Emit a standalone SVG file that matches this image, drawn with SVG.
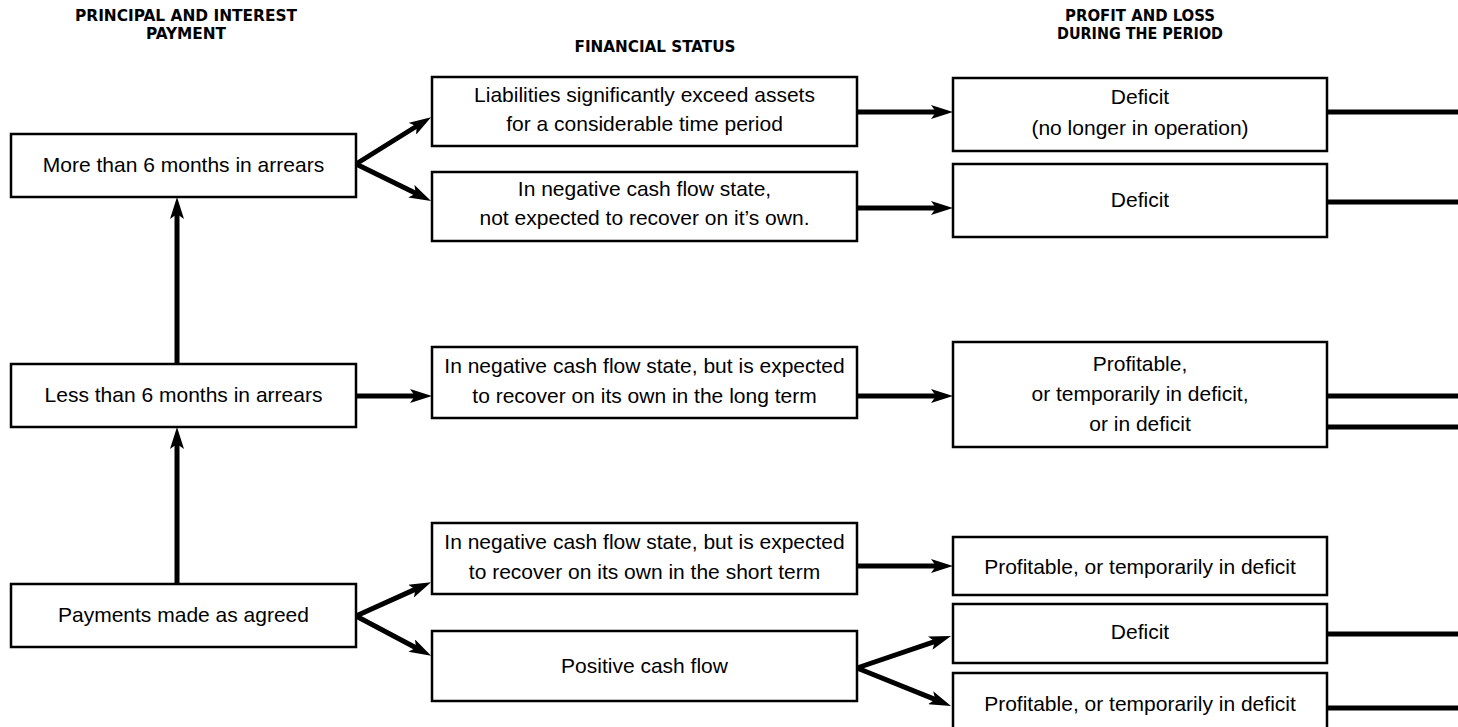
<svg xmlns="http://www.w3.org/2000/svg" width="1458" height="727" viewBox="0 0 1458 727">
<style>
.box{fill:#fff;stroke:#000;stroke-width:2.5}
.t{font-family:'Liberation Sans',Arial,sans-serif;font-size:21px;text-anchor:middle;fill:#000}
.h{font-family:'Liberation Sans Narrow','DejaVu Sans Condensed',sans-serif;font-weight:bold;font-size:15.5px;text-anchor:middle;fill:#000}
.c{stroke:#000;stroke-width:5;fill:none}
.a{marker-end:url(#ah)}
</style>
<defs>
<marker id="ah" markerUnits="userSpaceOnUse" markerWidth="22" markerHeight="14" refX="10" refY="7" orient="auto" viewBox="0 0 22 14"><path d="M0,0 L22,7 L0,14 L5,7 Z" fill="#000"/></marker>
</defs>
<g id="headers">
<text class="h" x="186" y="20.5" textLength="222" lengthAdjust="spacingAndGlyphs">PRINCIPAL AND INTEREST</text>
<text class="h" x="186" y="38.5" textLength="80" lengthAdjust="spacingAndGlyphs">PAYMENT</text>
<text class="h" x="655" y="51.5" textLength="161" lengthAdjust="spacingAndGlyphs">FINANCIAL STATUS</text>
<text class="h" x="1140" y="20.5" textLength="150" lengthAdjust="spacingAndGlyphs">PROFIT AND LOSS</text>
<text class="h" x="1140" y="38.5" textLength="166" lengthAdjust="spacingAndGlyphs">DURING THE PERIOD</text>
</g>
<g id="connectors">
<line class="c a" x1="177" y1="364" x2="177" y2="209"/>
<line class="c a" x1="177" y1="584" x2="177" y2="439"/>
<line class="c a" x1="356" y1="164" x2="420.9" y2="123.5"/>
<line class="c a" x1="356" y1="164" x2="420.3" y2="195.6"/>
<line class="c a" x1="356" y1="396" x2="420" y2="396"/>
<line class="c a" x1="356" y1="616" x2="420.1" y2="587.1"/>
<line class="c a" x1="356" y1="616" x2="420.5" y2="650.2"/>
<line class="c a" x1="857" y1="112" x2="941" y2="112"/>
<line class="c a" x1="857" y1="208" x2="941" y2="208"/>
<line class="c a" x1="857" y1="396" x2="941" y2="396"/>
<line class="c a" x1="857" y1="566" x2="941" y2="566"/>
<line class="c a" x1="857" y1="668" x2="939.7" y2="639.9"/>
<line class="c a" x1="857" y1="668" x2="939.9" y2="701.4"/>
<line class="c" x1="1327" y1="112" x2="1458" y2="112"/>
<line class="c" x1="1327" y1="202" x2="1458" y2="202"/>
<line class="c" x1="1327" y1="396" x2="1458" y2="396"/>
<line class="c" x1="1327" y1="427" x2="1458" y2="427"/>
<line class="c" x1="1327" y1="634" x2="1458" y2="634"/>
<line class="c" x1="1327" y1="708" x2="1458" y2="708"/>
</g>
<g id="pay-more">
<rect class="box" x="11" y="134" width="345" height="63"/>
<text class="t" x="183.5" y="172">More than 6 months in arrears</text>
</g>
<g id="pay-less">
<rect class="box" x="11" y="364" width="345" height="63"/>
<text class="t" x="183.5" y="402">Less than 6 months in arrears</text>
</g>
<g id="pay-agreed">
<rect class="box" x="11" y="584" width="345" height="63"/>
<text class="t" x="183.5" y="622">Payments made as agreed</text>
</g>
<g id="fs-liabilities">
<rect class="box" x="432" y="77" width="425" height="69"/>
<text class="t" x="644.5" y="102">Liabilities significantly exceed assets</text>
<text class="t" x="644.5" y="131">for a considerable time period</text>
</g>
<g id="fs-negative">
<rect class="box" x="432" y="172" width="425" height="69"/>
<text class="t" x="644.5" y="196">In negative cash flow state,</text>
<text class="t" x="644.5" y="225">not expected to recover on it’s own.</text>
</g>
<g id="fs-long">
<rect class="box" x="432" y="347" width="425" height="71"/>
<text class="t" x="644.5" y="373">In negative cash flow state, but is expected</text>
<text class="t" x="644.5" y="403">to recover on its own in the long term</text>
</g>
<g id="fs-short">
<rect class="box" x="432" y="523" width="425" height="71"/>
<text class="t" x="644.5" y="549">In negative cash flow state, but is expected</text>
<text class="t" x="644.5" y="579">to recover on its own in the short term</text>
</g>
<g id="fs-positive">
<rect class="box" x="432" y="631" width="425" height="70"/>
<text class="t" x="644.5" y="673">Positive cash flow</text>
</g>
<g id="pl-deficit-closed">
<rect class="box" x="953" y="78" width="374" height="73"/>
<text class="t" x="1140" y="104">Deficit</text>
<text class="t" x="1140" y="135">(no longer in operation)</text>
</g>
<g id="pl-deficit">
<rect class="box" x="953" y="164" width="374" height="73"/>
<text class="t" x="1140" y="207">Deficit</text>
</g>
<g id="pl-mixed">
<rect class="box" x="953" y="342" width="374" height="105"/>
<text class="t" x="1140" y="371">Profitable,</text>
<text class="t" x="1140" y="401">or temporarily in deficit,</text>
<text class="t" x="1140" y="431">or in deficit</text>
</g>
<g id="pl-profit-short">
<rect class="box" x="953" y="537" width="374" height="58"/>
<text class="t" x="1140" y="574">Profitable, or temporarily in deficit</text>
</g>
<g id="pl-deficit-pos">
<rect class="box" x="953" y="604" width="374" height="59"/>
<text class="t" x="1140" y="639">Deficit</text>
</g>
<g id="pl-profit-pos">
<rect class="box" x="953" y="673" width="374" height="70"/>
<text class="t" x="1140" y="711">Profitable, or temporarily in deficit</text>
</g>
</svg>
